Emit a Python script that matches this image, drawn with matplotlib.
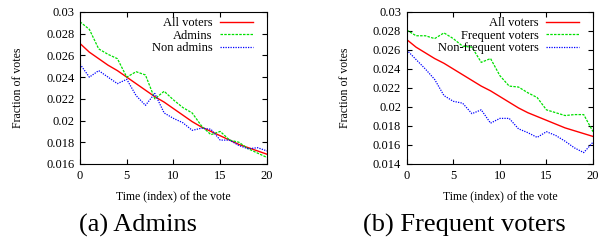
import matplotlib
matplotlib.use("Agg")
import matplotlib.pyplot as plt
from matplotlib.ticker import FuncFormatter
import numpy as np

# -----------------------
# Data
# -----------------------
t = np.arange(21)

all_voters = [0.0271, 0.0263, 0.0257, 0.0251, 0.0246, 0.0240, 0.0234, 0.0228,
              0.0222, 0.0217, 0.0211, 0.0205, 0.0199, 0.0194, 0.0190, 0.0186,
              0.0182, 0.0178, 0.0175, 0.0172, 0.0169]

admins = [0.0291, 0.0284, 0.0266, 0.0261, 0.0257, 0.0240, 0.0245, 0.0242,
          0.0220, 0.0227, 0.0219, 0.0212, 0.0207, 0.0195, 0.0187, 0.0190,
          0.0182, 0.0180, 0.0174, 0.0170, 0.0166]

non_admins = [0.0252, 0.0240, 0.0246, 0.0240, 0.0234, 0.0238, 0.0223, 0.0214,
              0.0225, 0.0207, 0.0202, 0.0198, 0.0191, 0.0193, 0.0192, 0.0182,
              0.0182, 0.0177, 0.0174, 0.0175, 0.0172]

frequent = [0.0281, 0.0275, 0.0275, 0.0272, 0.0278, 0.0272, 0.0264, 0.0263,
            0.0247, 0.0251, 0.0233, 0.0222, 0.0221, 0.0215, 0.0210, 0.0197,
            0.0194, 0.0191, 0.0192, 0.0192, 0.0174]

non_frequent = [0.0260, 0.0250, 0.0240, 0.0229, 0.0212, 0.0206, 0.0204, 0.0193,
                0.0197, 0.0183, 0.0188, 0.0188, 0.0177, 0.0173, 0.0168, 0.0174,
                0.0170, 0.0164, 0.0157, 0.0152, 0.0163]

plt.rcParams['font.family'] = ['Liberation Serif', 'DejaVu Serif']

# -----------------------
# Plot
# -----------------------
fig = plt.figure(figsize=(6.02, 2.40), dpi=100)
ax1 = fig.add_axes([0.1329, 0.3167, 0.3106, 0.6333])
ax2 = fig.add_axes([0.6756, 0.3167, 0.3095, 0.6333])

panels = [
    (ax1, admins, 'Admins', non_admins, 'Non admins', (0.016, 0.03)),
    (ax2, frequent, 'Frequent voters', non_frequent, 'Non-frequent voters', (0.014, 0.03)),
]

for ax, g, glab, b, blab, ylim in panels:
    ax.plot(t, all_voters, color='#ff0000', lw=1.0, label='All voters')
    ax.plot(t, g, color='#00e000', lw=0.9, ls=(0, (2, 1)), label=glab)
    ax.plot(t, b, color='#0000ff', lw=0.9, ls=(0, (1, 1)), label=blab)
    ax.set_xlim(0, 20)
    ax.set_ylim(*ylim)
    ax.set_xticks([0, 5, 10, 15, 20])
    ax.set_yticks(np.arange(ylim[0], ylim[1] + 1e-9, 0.002))
    ax.yaxis.set_major_formatter(FuncFormatter(lambda v, p: '%g' % round(v, 4)))
    ax.tick_params(direction='in', top=True, right=True, length=3.5,
                   width=0.8, labelsize=9, pad=4)
    for s in ax.spines.values():
        s.set_linewidth(0.8)
    ax.set_xlabel('Time (index) of the vote', fontsize=8.5, labelpad=6)
    ax.set_ylabel('Fraction of votes', fontsize=8.5, labelpad=16)
    ax.legend(loc='upper right', bbox_to_anchor=(0.95, 1.0), frameon=False,
              markerfirst=False, fontsize=9, handlelength=2.6,
              labelspacing=0.05, borderaxespad=0.0, handletextpad=0.6)

fig.text(0.229, 0.06, '(a) Admins', fontsize=19, ha='center', va='center')
fig.text(0.771, 0.06, '(b) Frequent voters', fontsize=19, ha='center', va='center')

fig.savefig('out.png', dpi=100)
